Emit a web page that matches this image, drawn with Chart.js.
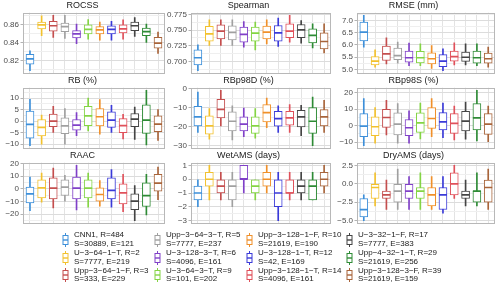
<!DOCTYPE html>
<html><head><meta charset="utf-8">
<script src="https://cdn.jsdelivr.net/npm/chart.js@4.4.1/dist/chart.umd.min.js"></script>
<style>
html,body{margin:0;padding:0;background:#fff;overflow:hidden}
#wrap{position:relative;width:500px;height:287px;overflow:hidden;background:#fff}
#wrap canvas{position:absolute}
.leg{position:absolute;font-family:"Liberation Sans",Arial,sans-serif;font-size:8px;color:#1a1a1a;line-height:8.7px;white-space:nowrap}
.ico{position:absolute}
</style></head><body><div id="wrap"></div>
<script>
// ---- categories / legend ----
const categories = ['CNN1','U-3-64-1-T','Upp-3-64-1-F','Upp-3-64-3-T','U-3-128-3-T','U-3-64-3-T',
  'Upp-3-128-1-F','U-3-128-1-T','Upp-3-128-1-T','U-3-32-1-F','Upp-4-32-1-T','Upp-3-128-3-F'];
const legendNames = ['CNN1, R=484','U\u22123\u221264\u22121\u2212T, R=2','Upp\u22123\u221264\u22121\u2212F, R=3',
  'Upp\u22123\u221264\u22123\u2212T, R=5','U\u22123\u2212128\u22123\u2212T, R=6','U\u22123\u221264\u22123\u2212T, R=9',
  'Upp\u22123\u2212128\u22121\u2212F, R=10','U\u22123\u2212128\u22121\u2212T, R=12','Upp\u22123\u2212128\u22121\u2212T, R=14',
  'U\u22123\u221232\u22121\u2212F, R=17','Upp\u22124\u221232\u22121\u2212T, R=29','Upp\u22123\u2212128\u22123\u2212F, R=39'];
const legendStats = ['S=30889, E=121','S=7777, E=219','S=333, E=229','S=7777, E=237','S=4096, E=161','S=101, E=202',
  'S=21619, E=190','S=42, E=169','S=4096, E=161','S=7777, E=383','S=21619, E=256','S=21619, E=159'];
const seriesColors = ['#3d8fd9','#f2c12e','#c44e4e','#a0a0a0','#8040c8','#84d444',
  '#f0902a','#3a3ad8','#e0505a','#444444','#2e8b35','#a8643a'];

// ---- box stats per panel: [min, q1, median, q3, max] ----
const ROCSS = [[0.809,0.816,0.822,0.827,0.831],[0.848,0.8555,0.860,0.863,0.870],[0.846,0.853,0.859,0.864,0.8705],
  [0.845,0.8525,0.858,0.862,0.8705],[0.839,0.8455,0.850,0.8535,0.861],[0.844,0.850,0.855,0.860,0.866],
  [0.843,0.850,0.8545,0.858,0.863],[0.843,0.850,0.855,0.859,0.864],[0.844,0.851,0.8555,0.860,0.8655],
  [0.847,0.8535,0.859,0.863,0.868],[0.8405,0.848,0.8525,0.8565,0.861],[0.828,0.834,0.8395,0.846,0.852]];
const SPEARMAN = [[0.6856,0.6947,0.706,0.7186,0.7266],[0.7255,0.7324,0.744,0.7559,0.7665],[0.7255,0.7362,0.7484,0.7585,0.7665],
  [0.7255,0.7346,0.7463,0.7569,0.7665],[0.7229,0.7309,0.7431,0.7548,0.7638],[0.7186,0.7324,0.7452,0.7548,0.7628],
  [0.7282,0.7362,0.7468,0.7564,0.7665],[0.7239,0.7324,0.7457,0.7574,0.7691],[0.7309,0.7378,0.7484,0.7601,0.7734],
  [0.7293,0.7378,0.7505,0.759,0.7654],[0.7218,0.7298,0.7415,0.7521,0.7601],[0.7138,0.7202,0.7319,0.7457,0.7601]];
const RMSE = [[5.91,6.16,6.52,6.93,7.20],[5.10,5.19,5.34,5.53,5.80],[5.23,5.37,5.64,5.95,6.29],
  [5.26,5.40,5.57,5.87,6.12],[5.16,5.30,5.48,5.75,6.08],[5.16,5.27,5.48,5.74,6.05],
  [5.05,5.23,5.44,5.68,5.98],[4.96,5.12,5.34,5.61,5.84],[5.19,5.34,5.53,5.75,6.09],
  [5.19,5.33,5.50,5.71,6.05],[5.16,5.26,5.48,5.75,6.05],[5.10,5.26,5.44,5.67,5.91]];
const RB = [[-10.6,-7.4,-1.4,4.3,9.4],[-10,-6.4,-2.7,0.7,2.6],[-4.9,-2.4,0,3.0,6.4],
  [-10,-5.4,-2.1,1.4,5.4],[-6.3,-3.9,-1.7,0.7,3.7],[-4.3,-2,2.3,6.4,10],
  [-5.7,-2.1,1.9,5.4,9.3],[-4.9,-2.7,0.4,4.0,6.9],[-7.7,-5,-2,1.1,2.9],
  [-7.9,-2.4,0.9,3.3,6.1],[-10.3,-5.3,0.4,7.1,13.3],[-8.4,-4.6,-1.3,2.3,5.0]];
const RBP98D = [[-22.9,-19.5,-14.8,-9.3,-1.9],[-26.5,-23.8,-19.5,-14.3,-10.5],[-19.5,-15.3,-10.9,-5.7,-1.0],
  [-26.9,-22.2,-17.1,-12.2,-9.1],[-25.2,-22.2,-18.6,-14.8,-10.2],[-26.0,-23.4,-19.5,-14.8,-10.5],
  [-20.5,-17.4,-12.6,-8.4,-5.0],[-22.9,-19.7,-15.7,-11.9,-9.1],[-22.9,-19.1,-15.3,-11.9,-8.4],
  [-24.7,-20,-14.8,-11.4,-8.8],[-29.8,-23.4,-17.1,-10,-4.5],[-22.9,-19.5,-14.8,-11.0,-6.2]];
const RBP98S = [[-12,-6.6,-0.2,7.4,16.4],[-10.6,-6,-0.6,5.4,11],[-5.6,-1,5,10,15.4],
  [-10.6,-5.6,1,7.8,13.4],[-10.6,-6,-1.2,3.8,9],[-8,-4,1.8,7.8,13.8],
  [-6.6,-1.6,4.4,11,16.4],[-7.2,-2.6,2.4,8,13.8],[-8.6,-4.6,1.4,7.4,12],
  [-8.2,-3.2,2.8,8.8,14.4],[-9.2,-2.6,4.8,13.4,21.4],[-9.6,-5.2,1,7.4,12]];
const RAAC = [[-17.2,-11.1,-4.0,1.3,9.3],[-10.6,-7.1,0.8,7.1,12.4],[-15.1,-7.9,0.5,8.7,16.4],
  [-9.8,-5.3,1.3,7.1,10.6],[-16.7,-7.9,0.5,9.3,18.5],[-14.6,-7.1,0.5,7.1,12.4],
  [-13.8,-9.8,-4.5,0.8,6.6],[-14.6,-7.9,-1.3,8.7,15.3],[-18,-11.9,-3.2,4.0,11.4],
  [-25.1,-16.4,-9.8,-4.0,2.6],[-20.6,-14,-5.3,4.8,11.4],[-8.5,-1.9,4.5,11.4,17.2]];
const WETAMS = [[-2,-1.5,-1,-0.5,0],[-1.5,-0.5,0,0.5,1],[-1.5,-1,-0.5,0,0.5],
  [-2,-1.5,-0.5,0,0.5],[-1,0,0,1,1],[-1.5,-1,-0.5,0,0],
  [-1,-0.5,0,0.5,1],[-3,-2,-1,0,0.5],[-1.5,-1,-1,0,0.5],
  [-1.5,-1,-0.5,0,0.5],[-1.5,-1.5,-0.5,0,0.5],[-1,-0.5,0,0.5,1]];
const DRYAMS = [[-5,-4.5,-3.5,-2,-1.5],[-3,-2,-0.5,0,1.5],[-3.5,-2,-1.5,-1,0.5],
  [-3.5,-2.5,-1,0,2],[-3.5,-2,-1,0,1],[-3.5,-2,-1,-0.5,1.5],
  [-3.5,-3,-1.5,-0.5,1],[-4,-3.5,-1.5,-0.5,1],[-2,-1.5,0,1.5,2.5],
  [-3,-2,-1.5,-1,0.5],[-3,-2.5,-1,-1,1.5],[-3.5,-2.5,-0.5,0.5,2]];

// ---- tick labels per panel ----
const ROCSS_TICKS = [0.82,0.84,0.86];
const SPEARMAN_TICKS = [0.700,0.725,0.750,0.775];
const RMSE_TICKS = [5.0,5.5,6.0,6.5,7.0];
const RB_TICKS = [-10,-5,0,5,10];
const RBP98D_TICKS = [-30,-20,-10,0];
const RBP98S_TICKS = [-10,0,10,20];
const RAAC_TICKS = [-20,-10,0,10,20];
const WETAMS_TICKS = [-3,-2,-1,0,1];
const DRYAMS_TICKS = [-5,-2.5,0,2.5];

const panelTitles = ['ROCSS','Spearman','RMSE (mm)','RB (%)','RBp98D (%)','RBp98S (%)','RAAC','WetAMS (days)','DryAMS (days)'];
const panelData = [ROCSS,SPEARMAN,RMSE,RB,RBP98D,RBP98S,RAAC,WETAMS,DRYAMS];
const panelTicks = [ROCSS_TICKS,SPEARMAN_TICKS,RMSE_TICKS,RB_TICKS,RBP98D_TICKS,RBP98S_TICKS,RAAC_TICKS,WETAMS_TICKS,DRYAMS_TICKS];
const panelDecimals = [2,3,1,0,0,0,0,0,1];

const FONT = '"Liberation Sans", Arial, sans-serif';
const wrap = document.getElementById('wrap');

const panelBorder = {
  id: 'panelBorder',
  afterDraw(chart) {
    const {ctx, chartArea: a} = chart;
    ctx.save();
    ctx.strokeStyle = '#b8b8b8';
    ctx.lineWidth = 1;
    ctx.strokeRect(Math.round(a.left) + 0.5, Math.round(a.top) + 0.5,
      Math.round(a.right - a.left) - 1, Math.round(a.bottom - a.top) - 1);
    ctx.restore();
  }
};

const COLS = [{left:0, axis:23, w:142}, {left:166, axis:25, w:140}, {left:332, axis:25, w:138}];
const ROWS = [0, 75, 150];
const CH = 80, TITLE_H = 12.7, PLOT_H = 60.6;

function fmt(v, dec) {
  const s = Math.abs(v).toFixed(dec);
  return (v < -1e-9 ? '\u2212' : '') + s;
}

panelData.forEach((data, idx) => {
  const L = COLS[idx % 3];
  const top = ROWS[Math.floor(idx / 3)];
  const cw = L.axis * 2 + L.w;
  const cv = document.createElement('canvas');
  cv.width = cw; cv.height = CH;
  cv.style.left = L.left + 'px'; cv.style.top = top + 'px';
  cv.style.width = cw + 'px'; cv.style.height = CH + 'px';
  wrap.appendChild(cv);

  const lo = Math.min(...data.map(d => d[0]));
  const hi = Math.max(...data.map(d => d[4]));
  const pad = (hi - lo) * 0.05;
  const ymin = lo - pad, ymax = hi + pad;
  const major = panelTicks[idx];
  const step = major[1] - major[0];
  const isMajor = v => major.some(m => Math.abs(m - v) < step * 1e-3);
  let vals = major.slice();
  major.forEach(m => vals.push(m - step / 2));
  vals.push(major[major.length - 1] + step / 2);
  vals = vals.filter(v => v >= ymin && v <= ymax).sort((a, b) => a - b);
  const dec = panelDecimals[idx];

  new Chart(cv, {
    type: 'bar',
    data: {
      datasets: [
        { type: 'line', label: 'median', order: 1,
          data: data.map((d, i) => ({x: i + 1, y: d[2]})),
          showLine: false, pointStyle: 'line', pointRadius: 4, pointHoverRadius: 4,
          pointBorderWidth: 1.7, pointBorderColor: seriesColors, pointBackgroundColor: seriesColors },
        { type: 'bar', label: 'box', order: 2,
          data: data.map((d, i) => ({x: i + 1, y: [d[1], d[3]]})),
          backgroundColor: '#ffffff', borderColor: seriesColors, borderWidth: 1,
          borderSkipped: false, barThickness: 8, grouped: false },
        { type: 'bar', label: 'whisker', order: 3,
          data: data.map((d, i) => ({x: i + 1, y: [d[0], d[4]]})),
          backgroundColor: seriesColors, borderWidth: 0, barThickness: 1, grouped: false }
      ]
    },
    options: {
      responsive: false, animation: false, devicePixelRatio: 1,
      layout: { padding: { left: 0, right: L.axis, top: 0, bottom: CH - TITLE_H - PLOT_H } },
      plugins: {
        legend: { display: false }, tooltip: { enabled: false },
        title: { display: true, text: panelTitles[idx], color: '#1a1a1a',
          font: { family: FONT, size: 9, weight: 'normal', lineHeight: 1.2 },
          padding: { top: 0, bottom: TITLE_H - 10.8 } }
      },
      scales: {
        x: { type: 'linear', min: 0.4, max: 12.6, offset: false,
          afterBuildTicks: ax => { ax.ticks = categories.map((c, i) => ({value: i + 1})); },
          afterFit: s => { s.height = 0; },
          ticks: { display: false },
          grid: { color: '#e3e3e3', lineWidth: 1, drawTicks: false, offset: false },
          border: { display: false } },
        y: { type: 'linear', min: ymin, max: ymax,
          afterBuildTicks: ax => { ax.ticks = vals.map(v => ({value: v})); },
          afterFit: s => { s.width = L.axis; s.paddingTop = 0; s.paddingBottom = 0; },
          ticks: { autoSkip: false, padding: 1.5, color: '#4d4d4d',
            font: { family: FONT, size: 8 },
            callback: v => isMajor(v) ? fmt(v, dec) : '' },
          grid: { drawTicks: true, tickLength: 2.5,
            color: c => (c.tick && isMajor(c.tick.value)) ? '#dcdcdc' : '#efefef',
            tickColor: c => (c.tick && isMajor(c.tick.value)) ? '#b3b3b3' : 'rgba(0,0,0,0)',
            lineWidth: 1 },
          border: { display: false } }
      }
    },
    plugins: [panelBorder]
  });
});

// ---- legend (HTML text) ----
const legTextX = [74, 166, 258, 358];
const legIconX = [65, 157, 249, 349];
const legTop0 = 231.4, legRowH = 17.6;
categories.forEach((c, k) => {
  const col = Math.floor(k / 3), r = k % 3;
  const t = legTop0 + r * legRowH;
  const d = document.createElement('div');
  d.className = 'leg';
  d.style.left = legTextX[col] + 'px';
  d.style.top = t + 'px';
  d.textContent = legendNames[k];
  d.appendChild(document.createElement('br'));
  d.appendChild(document.createTextNode(legendStats[k]));
  wrap.appendChild(d);
  const col_ = seriesColors[k];
  const ic = document.createElement('div');
  ic.className = 'ico';
  ic.style.left = (legIconX[col] - 3.5) + 'px';
  ic.style.top = (t + 8.7 - 7) + 'px';
  ic.innerHTML = '<svg width="7" height="14" xmlns="http://www.w3.org/2000/svg">' +
    '<line x1="3.5" y1="0" x2="3.5" y2="14" stroke="' + col_ + '" stroke-width="1"/>' +
    '<rect x="1" y="2.5" width="5" height="9" fill="#fff" stroke="' + col_ + '" stroke-width="1"/>' +
    '<line x1="1" y1="7" x2="6" y2="7" stroke="' + col_ + '" stroke-width="1.4"/></svg>';
  wrap.appendChild(ic);
});
</script></body></html>
